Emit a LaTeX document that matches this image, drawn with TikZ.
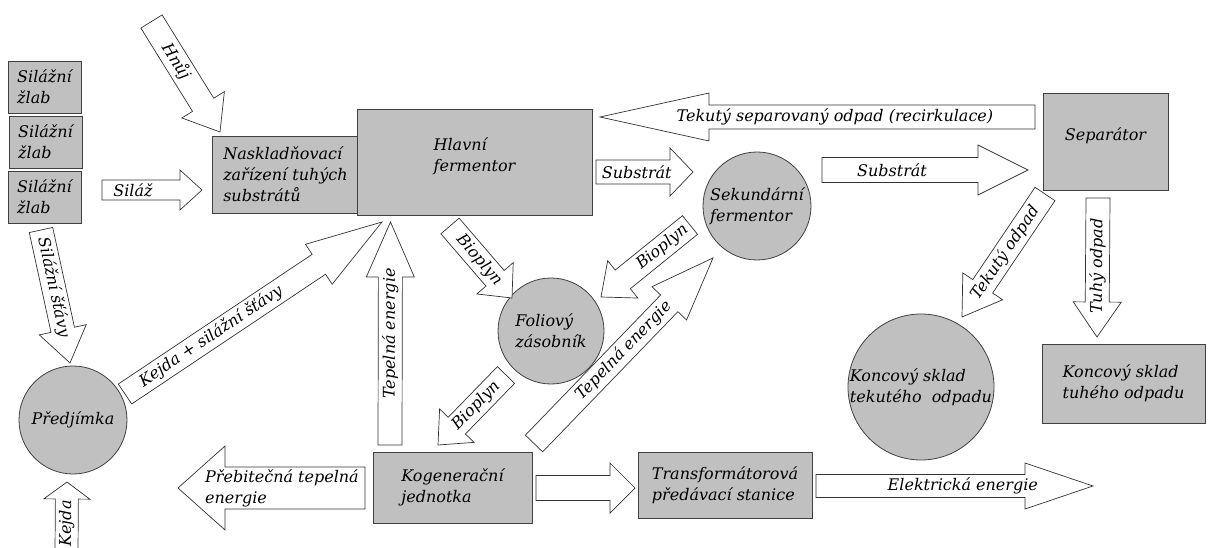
\documentclass[tikz,border=0pt]{standalone}
\usepackage{fontspec}
\setmainfont{DejaVu Serif}
\usetikzlibrary{calc}
\definecolor{boxgray}{HTML}{C0C0C0}
\definecolor{edge}{HTML}{404040}

% block arrow: [half shaft width]{tail}{tip}{head length}{label options}{label}
\newcommand{\fatarrow}[6][12pt]{%
  \coordinate (hb) at ($(#3)!#4!(#2)$);
  \draw[fat] ($(#2)!#1!90:(#3)$) -- ($(hb)!#1!-90:(#2)$) -- ($(hb)!2*#1!-90:(#2)$) -- (#3)
    -- ($(hb)!2*#1!90:(#2)$) -- ($(hb)!#1!90:(#2)$) -- ($(#2)!#1!-90:(#3)$) -- cycle;
  \path (#2) -- (#3) node[lbl, sloped, #5] {#6};
}

\begin{document}
\begin{tikzpicture}[x=1pt, y=-1pt, font=\fontsize{16}{21}\selectfont\itshape,
    box/.style={draw=edge, fill=boxgray, line width=0.8pt, inner sep=0pt, align=left},
    disc/.style={circle, draw=edge, fill=boxgray, line width=0.8pt, inner sep=0pt},
    fat/.style={draw=black!80, fill=white, line width=0.7pt},
    lbl/.style={inner sep=0pt, align=center}]
  \useasboundingbox (0,0) rectangle (1208,548);

  % silage troughs
  \node[box, minimum width=73pt, minimum height=52pt] (zlab1) at (44.5,87) {Silážní\\žlab};
  \node[box, minimum width=73pt, minimum height=52pt] (zlab2) at (45.5,142) {Silážní\\žlab};
  \node[box, minimum width=73pt, minimum height=52pt] (zlab3) at (44.5,197) {Silážní\\žlab};

  % main line
  \node[box, minimum width=147pt, minimum height=77pt] (nask) at (285.5,174.5) {Naskladňovací\\zařízení tuhých\\substrátů};
  \node[box, minimum width=235pt, minimum height=106pt,
        label={[lbl, align=left, yshift=6pt]center:{Hlavní\\fermentor}}] (hlavni) at (474.5,162) {};
  \node[disc, minimum size=108pt, label={[lbl, align=left]center:{Sekundární\\fermentor}}] (sek) at (757,206) {};
  \node[box, minimum width=125pt, minimum height=97pt,
        label={[lbl, yshift=6pt]center:Separátor}] (separ) at (1105.5,141.5) {};
  \node[disc, minimum size=106pt, label={[lbl, align=left]center:{Foliový\\zásobník}}] (folio) at (551,331) {};
  \node[disc, minimum size=108pt, label={[lbl]center:Předjímka}] (predj) at (73,420) {};

  % end storage
  \node[disc, minimum size=146pt, label={[lbl, align=left]center:{Koncový sklad\\tekutého~ odpadu}}] (konctek) at (921,387) {};
  \node[box, minimum width=163pt, minimum height=79pt] (konctuh) at (1123.5,383.5) {Koncový sklad\\tuhého odpadu};

  % energy
  \node[box, minimum width=159pt, minimum height=71pt] (kogen) at (452.5,487.5) {Kogenerační\\jednotka};
  \node[box, minimum width=174pt, minimum height=66pt] (trans) at (725,485) {Transformátorová\\předávací stanice};

  % arrow ends
  \coordinate (hnuj-a) at (151.5,21.5);   \coordinate (hnuj-b) at (220,132);
  \coordinate (silaz-a) at (102,190);     \coordinate (silaz-b) at (202,190);
  \coordinate (stavy-a) at (41,230);      \coordinate (stavy-b) at (70,363);
  \coordinate (kejda-a) at (66.5,552);    \coordinate (kejda-b) at (67,482);
  \coordinate (smes-a) at (125,394);      \coordinate (smes-b) at (382,222);
  \coordinate (teplo1-a) at (390,445);    \coordinate (teplo1-b) at (390.5,222);
  \coordinate (teplo2-a) at (534,443.5);  \coordinate (teplo2-b) at (713,258);
  \coordinate (prebyt-a) at (365,488);    \coordinate (prebyt-b) at (178,488);
  \coordinate (kgt-a) at (536,488);       \coordinate (kgt-b) at (635,488);
  \coordinate (elek-a) at (816,486);      \coordinate (elek-b) at (1093,486);
  \coordinate (subst1-a) at (596,172);    \coordinate (subst1-b) at (693,172);
  \coordinate (subst2-a) at (822,170);    \coordinate (subst2-b) at (1028,170);
  \coordinate (recirk-a) at (1035,117);   \coordinate (recirk-b) at (600,117);
  \coordinate (tuhy-a) at (1098,198);     \coordinate (tuhy-b) at (1097,337);
  \coordinate (tekuty-a) at (1045,194);   \coordinate (tekuty-b) at (962,317);
  \coordinate (bio1-a) at (450,226);      \coordinate (bio1-b) at (512,298);
  \coordinate (bio2-a) at (690,225);      \coordinate (bio2-b) at (601,297);
  \coordinate (bio3-a) at (506,375);      \coordinate (bio3-b) at (438,445);

  % flows
  \fatarrow[12.5pt]{hnuj-a}{hnuj-b}{32pt}{pos=.36}{Hnůj}
  \fatarrow[10pt]{silaz-a}{silaz-b}{22pt}{pos=.31}{Siláž}
  \fatarrow{stavy-a}{stavy-b}{34pt}{pos=.43}{Silážní šťávy}
  \fatarrow[11.5pt]{kejda-a}{kejda-b}{17pt}{pos=.41}{Kejda}
  \fatarrow{smes-a}{smes-b}{76pt}{pos=.335}{Kejda + silážní šťávy}
  \fatarrow{teplo1-a}{teplo1-b}{55pt}{pos=.5}{Tepelná energie}
  \fatarrow{teplo2-a}{teplo2-b}{63pt}{pos=.5}{Tepelná energie}
  \fatarrow[21pt]{prebyt-a}{prebyt-b}{47pt}{pos=.444, align=left}{Přebitečná tepelná\\energie}
  \fatarrow[12.5pt]{kgt-a}{kgt-b}{25pt}{pos=.5}{}
  \fatarrow[11.5pt]{elek-a}{elek-b}{68pt}{pos=.53}{Elektrická energie}
  \fatarrow{subst1-a}{subst1-b}{23pt}{pos=.42}{Substrát}
  \fatarrow[12.5pt]{subst2-a}{subst2-b}{50pt}{pos=.34}{Substrát}
  \fatarrow{recirk-a}{recirk-b}{109pt}{pos=.46}{Tekutý separovaný odpad (recirkulace)}
  \fatarrow{tuhy-a}{tuhy-b}{35pt}{pos=.49}{Tuhý odpad}
  \fatarrow{tekuty-a}{tekuty-b}{37pt}{pos=.48}{Tekutý odpad}
  \fatarrow{bio1-a}{bio1-b}{26pt}{pos=.47}{Bioplyn}
  \fatarrow{bio2-a}{bio2-b}{28pt}{pos=.31}{Bioplyn}
  \fatarrow{bio3-a}{bio3-b}{27pt}{pos=.44}{Bioplyn}
\end{tikzpicture}
\end{document}
